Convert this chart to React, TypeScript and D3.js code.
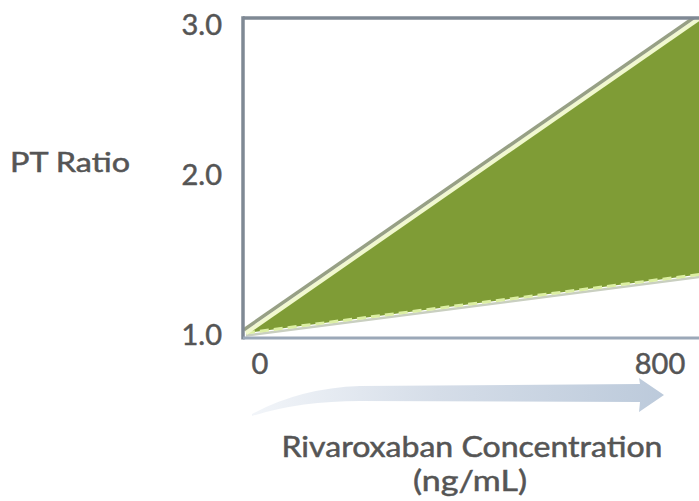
import * as d3 from 'd3';

// Concentration (ng/mL) vs PT ratio
const concentrations = [0, 860];
const upperRatio = [1.0, 3.03];
const lowerRatio = [1.0, 1.378];
const xTicks = [0, 800];
const yTicks = [1, 2, 3];

const W = 699;
const H = 501;
const FONT = 'Lato, "Open Sans", sans-serif';
const TEXT = '#555555';

export default function App() {
  const x = d3.scaleLinear().domain([0, 800]).range([246, 668]);
  const y = d3.scaleLinear().domain([1, 3]).range([333, 23]);

  // frame edges (right side runs off the canvas)
  const frame = { left: 243, top: 18, right: 720, bottom: 338 };

  const upper = concentrations.map((c, i) => [c, upperRatio[i]] as [number, number]);
  const lower = concentrations.map((c, i) => [c, lowerRatio[i]] as [number, number]);

  const band = d3
    .area<number>()
    .x(i => x(concentrations[i]))
    .y0(i => y(lowerRatio[i]))
    .y1(i => y(upperRatio[i]));
  const line = d3
    .line<[number, number]>()
    .x(d => x(d[0]))
    .y(d => y(d[1]));

  const idx = concentrations.map((_, i) => i);
  const textStyle = { fontFamily: FONT, fill: TEXT, stroke: TEXT, strokeWidth: 0.5 };

  return (
    <div style={{ position: 'fixed', left: 0, top: 0, width: W, height: H, overflow: 'hidden', background: '#fff' }}>
      <svg width={W} height={H} style={{ display: 'block' }}>
        <defs>
          <clipPath id="plot">
            <rect x={frame.left} y={frame.top} width={frame.right - frame.left} height={frame.bottom - frame.top} />
          </clipPath>
          <linearGradient id="arrowGrad" x1="0" x2="1" y1="0" y2="0">
            <stop offset="0" stopColor="#f2f5f9" />
            <stop offset="0.45" stopColor="#d5dde8" />
            <stop offset="1" stopColor="#bccadb" />
          </linearGradient>
        </defs>

        {/* band between the two lines */}
        <g clipPath="url(#plot)">
          <path d={band(idx) ?? ''} fill="#7f9c36" />
          {/* lower edge: dashed pale line with soft grey shadow */}
          <path d={line(lower) ?? ''} fill="none" stroke="#c9cfc0" strokeWidth={2.5} transform="translate(0,2.5)" />
          <path d={line(lower) ?? ''} fill="none" stroke="#dcefa3" strokeWidth={3} strokeDasharray="9 5" />
          {/* upper edge: pale line with grey line beside it */}
          <path d={line(upper) ?? ''} fill="none" stroke="#f1f8cf" strokeWidth={4} />
          <path d={line(upper) ?? ''} fill="none" stroke="#97a085" strokeWidth={3.5} transform="translate(-2.2,-3.2)" />
        </g>

        {/* frame */}
        <line x1={frame.left} x2={frame.right} y1={frame.top} y2={frame.top} stroke="#7f8994" strokeWidth={3.5} />
        <line x1={frame.left} x2={frame.left} y1={frame.top - 1.75} y2={frame.bottom + 1.5} stroke="#7f8994" strokeWidth={3.5} />
        <line x1={frame.left} x2={frame.right} y1={frame.bottom} y2={frame.bottom} stroke="#9ba8b8" strokeWidth={3} />

        {/* y tick labels */}
        {yTicks.map(t => (
          <text key={`y${t}`} x={222} y={y(t) - (t === 2 ? 5 : 0)} textAnchor="end" dominantBaseline="central" fontSize={29} style={textStyle}>
            {d3.format('.1f')(t)}
          </text>
        ))}

        {/* x tick labels */}
        {xTicks.map((t, i) => (
          <text key={`x${t}`} x={x(t) + (i === 0 ? 14 : -8)} y={362} textAnchor="middle" dominantBaseline="central" fontSize={29} style={textStyle}>
            {t}
          </text>
        ))}

        <text x={10} y={161} dominantBaseline="central" fontSize={27} style={textStyle} textLength={120} lengthAdjust="spacingAndGlyphs">
          PT Ratio
        </text>

        {/* curved arrow under the x axis */}
        <path
          d="M252,414 Q300,388 360,386 L640,384 L639,378 L664,395 L639,412 L640,402 L360,401 Q300,401 252,416 Z"
          fill="url(#arrowGrad)"
        />

        <text x={472} y={446} textAnchor="middle" dominantBaseline="central" fontSize={28} style={textStyle} textLength={381} lengthAdjust="spacingAndGlyphs">
          Rivaroxaban Concentration
        </text>
        <text x={470} y={480} textAnchor="middle" dominantBaseline="central" fontSize={28} style={textStyle} textLength={114} lengthAdjust="spacingAndGlyphs">
          (ng/mL)
        </text>
      </svg>
    </div>
  );
}
